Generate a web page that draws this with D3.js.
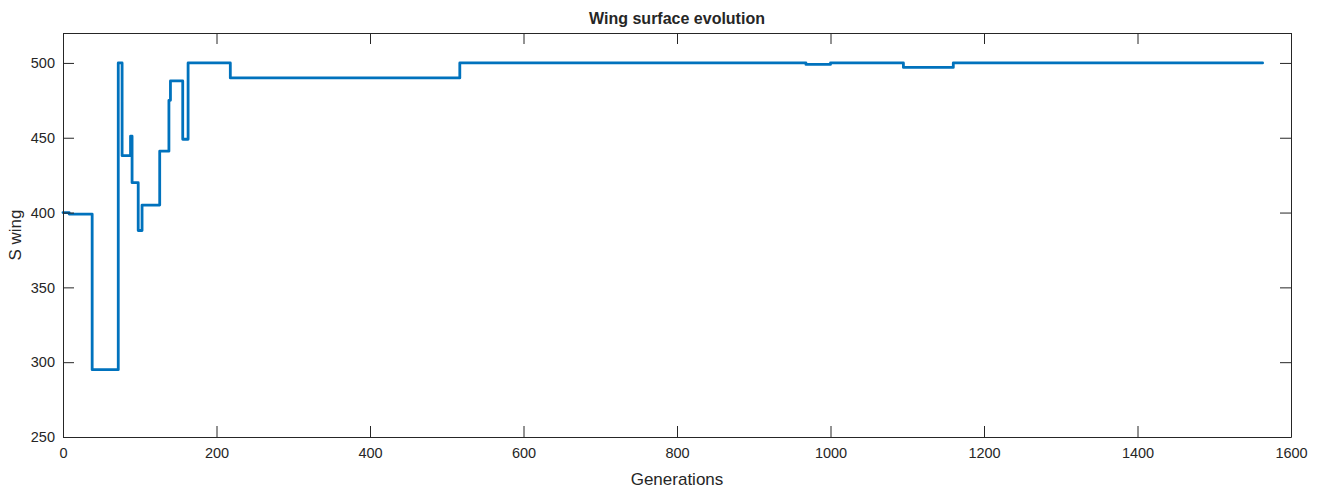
<!DOCTYPE html>
<html>
<head>
<meta charset="utf-8">
<script src="https://cdn.jsdelivr.net/npm/d3@7"></script>
<style>
  html, body { margin: 0; padding: 0; background: #fff; }
  svg { display: block; }
  text { font-family: "Liberation Sans", Arial, Helvetica, sans-serif; fill: #262626; }
</style>
</head>
<body>
<svg id="chart" width="1323" height="489"></svg>
<script>
// Generation at which each new wing surface value takes effect
const generations = [0, 8, 38, 72, 77, 88, 90, 98, 103, 126, 138, 140, 156, 163, 218, 517, 968, 1000, 1095, 1160, 1563];
// Wing surface (S wing) value held from that generation on
const sWing = [400, 399, 295, 500, 438, 451, 420, 388, 405, 441, 475, 488, 449, 500, 490, 500, 499, 500, 497, 500, 500];

const xTicks = [0, 200, 400, 600, 800, 1000, 1200, 1400, 1600];
const yTicks = [250, 300, 350, 400, 450, 500];

const titleText = "Wing surface evolution";
const xLabelText = "Generations";
const yLabelText = "S wing";

const svg = d3.select("#chart");
const margin = { left: 63, right: 32, top: 33, bottom: 52 };
const W = 1323, H = 489;

const x = d3.scaleLinear().domain([0, 1600]).range([margin.left, W - margin.right]);
const y = d3.scaleLinear().domain([250, 520]).range([H - margin.bottom, margin.top]);

const points = generations.map((g, i) => ({ g, v: sWing[i] }));

const line = d3.line()
  .x(d => x(d.g))
  .y(d => y(d.v))
  .curve(d3.curveStepAfter);

svg.append("path")
  .datum(points)
  .attr("d", line)
  .attr("fill", "none")
  .attr("stroke", "#0072BD")
  .attr("stroke-width", 2.8)
  .attr("stroke-linejoin", "round")
  .attr("stroke-linecap", "round");

const tickLen = 11;
const axisColor = "#262626";

function styleAxis(g) {
  g.selectAll("path.domain").attr("stroke", axisColor).attr("stroke-width", 1);
  g.selectAll(".tick line").attr("stroke", axisColor).attr("stroke-width", 1);
  g.selectAll(".tick text")
    .attr("fill", axisColor)
    .style("font-family", "'Liberation Sans', Arial, sans-serif")
    .style("font-size", "14.5px");
}

// Bottom axis with labels, inward ticks
svg.append("g")
  .attr("transform", `translate(0,${y(250)})`)
  .call(d3.axisBottom(x).tickValues(xTicks).tickFormat(d3.format("d"))
    .tickSizeInner(-tickLen).tickSizeOuter(0).tickPadding(8))
  .call(styleAxis)
  .call(g => g.selectAll(".tick text").attr("dy", "0.9em"));

// Top axis, ticks only
svg.append("g")
  .attr("transform", `translate(0,${y(520)})`)
  .call(d3.axisTop(x).tickValues(xTicks).tickFormat("")
    .tickSizeInner(-tickLen).tickSizeOuter(0))
  .call(styleAxis);

// Left axis with labels, inward ticks
svg.append("g")
  .attr("transform", `translate(${x(0)},0)`)
  .call(d3.axisLeft(y).tickValues(yTicks).tickFormat(d3.format("d"))
    .tickSizeInner(-tickLen).tickSizeOuter(0).tickPadding(8))
  .call(styleAxis);

// Right axis, ticks only
svg.append("g")
  .attr("transform", `translate(${x(1600)},0)`)
  .call(d3.axisRight(y).tickValues(yTicks).tickFormat("")
    .tickSizeInner(-tickLen).tickSizeOuter(0))
  .call(styleAxis);

// Title
svg.append("text")
  .attr("x", (x(0) + x(1600)) / 2)
  .attr("y", 24)
  .attr("text-anchor", "middle")
  .style("font-weight", "bold")
  .style("font-size", "16px")
  .text(titleText);

// X axis label
svg.append("text")
  .attr("x", (x(0) + x(1600)) / 2)
  .attr("y", 485)
  .attr("text-anchor", "middle")
  .style("font-size", "17px")
  .text(xLabelText);

// Y axis label
svg.append("text")
  .attr("transform", `translate(21,${(y(250) + y(520)) / 2}) rotate(-90)`)
  .attr("text-anchor", "middle")
  .style("font-size", "17px")
  .text(yLabelText);
</script>
</body>
</html>
